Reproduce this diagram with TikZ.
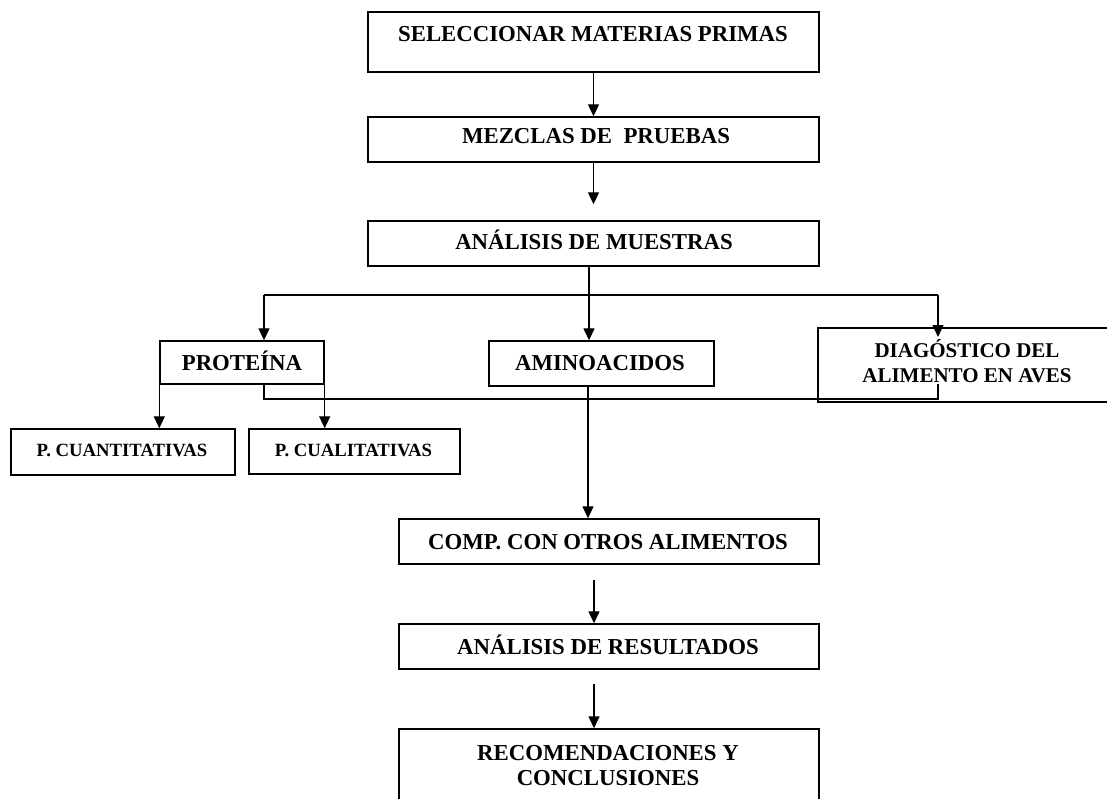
\documentclass[tikz,border=0pt]{standalone}
\usepackage{fontspec}
\setmainfont{Liberation Serif}
\usetikzlibrary{arrows.meta}
\begin{document}
\begin{tikzpicture}[x=1pt,y=-1pt,
  box/.style={draw, line width=1.4pt, inner sep=0pt},
  lbl/.style={font=\bfseries\fontsize{22.8}{25}\selectfont, anchor=base, inner sep=0pt, align=center},
  dlbl/.style={font=\bfseries\fontsize{21}{25}\selectfont, anchor=base, inner sep=0pt, align=center},
  smalllbl/.style={font=\bfseries\fontsize{18.7}{22}\selectfont, anchor=base, inner sep=0pt},
  arr/.style={-{Triangle[length=12pt,width=11pt]}, line width=1.3pt},
  ln/.style={line width=1.3pt}]
\useasboundingbox (0,0) rectangle (1107,799);
\clip (0,0) rectangle (1107,799);
% boxes
\node[box, minimum width=451pt, minimum height=60pt] (s1) at (593.5,42) {};
\node[box, minimum width=451pt, minimum height=45pt] (s2) at (593.5,139.5) {};
\node[box, minimum width=451pt, minimum height=45pt] (s3) at (593.5,243.5) {};
\node[box, minimum width=164pt, minimum height=43pt] (prot) at (242,362.5) {};
\node[box, minimum width=225pt, minimum height=45pt] (amino) at (601.5,363.5) {};
\node[box, minimum width=307pt, minimum height=74pt] (diag) at (971.5,365) {};
\node[box, minimum width=224pt, minimum height=46pt] (pcuant) at (123,452) {};
\node[box, minimum width=211pt, minimum height=45pt] (pcual) at (354.5,451.5) {};
\node[box, minimum width=420pt, minimum height=45pt] (comp) at (609,541.5) {};
\node[box, minimum width=420pt, minimum height=45pt] (res) at (609,646.5) {};
\node[box, minimum width=420pt, minimum height=100pt] (rec) at (609,779) {};
% texts
\node[lbl] (t1) at (593,41.5) {SELECCIONAR MATERIAS PRIMAS};
\node[lbl] (t2) at (596,143.5) {MEZCLAS DE\ \ PRUEBAS};
\node[lbl] (t3) at (594,249.5) {ANÁLISIS DE MUESTRAS};
\node[lbl] (tprot) at (242,370.5) {PROTEÍNA};
\node[lbl] (tamino) at (600,370.5) {AMINOACIDOS};
\node[dlbl] (tdiag) at (967,382) {DIAGÓSTICO DEL\\ALIMENTO EN AVES};
\node[smalllbl] (tpcuant) at (122,456.2) {P. CUANTITATIVAS};
\node[smalllbl] (tpcual) at (353.5,456.2) {P. CUALITATIVAS};
\node[lbl] (tcomp) at (608,549) {COMP. CON OTROS ALIMENTOS};
\node[lbl] (tres) at (608,654) {ANÁLISIS DE RESULTADOS};
\node[lbl] (trec) at (608,785.5) {RECOMENDACIONES Y\\CONCLUSIONES};
% helper coordinates
\coordinate (bj) at (589,295);
\coordinate (bl) at (264,295);
\coordinate (br) at (938,295);
\coordinate (dtip) at (938,337);
\coordinate (dl) at (938,384);
\coordinate (lb) at (264,399);
\coordinate (rb) at (938,399);
\coordinate (cx) at (588,0);
\coordinate (c2) at (594,580);
\coordinate (c3) at (594,684);
% connectors
\draw[arr] (s1.south) -- (s2.north);
\draw[arr] (s2.south) -- ([yshift=16pt]s3.north);
\draw[ln] (s3.south -| bj) -- (bj);
\draw[ln] (bl) -- (br);
\draw[arr] (bl) -- (bl |- prot.north);
\draw[arr] (bj) -- (bj |- amino.north);
\draw[arr] (br) -- (dtip);
\draw[arr] (prot.south west) -- (prot.south west |- pcuant.north);
\draw[arr] (prot.south east) -- (prot.south east |- pcual.north);
\draw[ln] (bl |- prot.south) -- (lb) -- (rb) -- (dl);
\draw[arr] (amino.south -| cx) -- (cx |- comp.north);
\draw[arr] (c2) -- (c2 |- res.north);
\draw[arr] (c3) -- (c3 |- rec.north);
\end{tikzpicture}
\end{document}
